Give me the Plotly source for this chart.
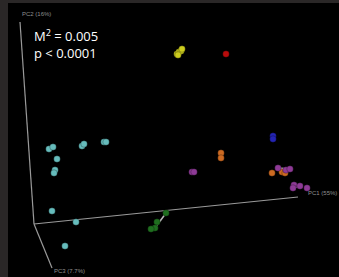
import plotly.graph_objects as go

# projected PCoA coordinates (screen frame of the reference view)
yellow_x = [177, 179, 181, 182, 178]
yellow_y = [54, 52, 51, 49, 55]
red_x = [226]
red_y = [54]
cyan_x = [49, 53, 57, 55, 54, 82, 84, 104, 106, 52, 76, 65]
cyan_y = [149, 147, 159, 170, 173, 146, 144, 142, 142, 211, 222, 246]
green_x = [166, 157, 155, 151]
green_y = [213, 222, 228, 229]
orange_x = [221, 221, 272, 282, 285]
orange_y = [153, 158, 173, 172, 173]
blue_x = [273, 273]
blue_y = [136, 139]
purple_x = [192, 194, 278, 286, 290, 294, 300, 307, 293]
purple_y = [172, 172, 168, 170, 169, 185, 186, 188, 188]

groups = [
    ("yellow", yellow_x, yellow_y, "#cccc1e"),
    ("red", red_x, red_y, "#b80c0c"),
    ("cyan", cyan_x, cyan_y, "#66bcbc"),
    ("green", green_x, green_y, "#1f6e1f"),
    ("orange", orange_x, orange_y, "#cc6a22"),
    ("blue", blue_x, blue_y, "#2424b4"),
    ("purple", purple_x, purple_y, "#8e3a96"),
]

# axis endpoints: origin, PC1 end, PC2 end, PC3 end
origin = (34, 224)
pc1_end = (298, 197)
pc2_end = (20, 22)
pc3_end = (52, 268)
axis_labels = ["PC1 (55%)", "PC2 (16%)", "PC3 (7.7%)"]
axis_label_pos = [(306, 193), (20, 14), (52, 271)]

fig = go.Figure()
for end in (pc1_end, pc2_end, pc3_end):
    fig.add_trace(go.Scatter(x=[origin[0], end[0]], y=[origin[1], end[1]],
                             mode="lines", line=dict(color="#9a9a9a", width=1.2),
                             hoverinfo="skip", showlegend=False))

# trajectory segments
traj_x = [[166, 155], [221, 221], [278, 290], [293, 300]]
traj_y = [[213, 228], [153, 158], [168, 169], [188, 186]]
for tx, ty in zip(traj_x, traj_y):
    fig.add_trace(go.Scatter(x=tx, y=ty, mode="lines",
                             line=dict(color="#bbbbbb", width=1.5),
                             hoverinfo="skip", showlegend=False))

for name, xs, ys, col in groups:
    fig.add_trace(go.Scatter(x=xs, y=ys, mode="markers", name=name,
                             marker=dict(size=6.5, color=col,
                                         line=dict(width=0.8, color="rgba(0,0,0,0.35)")),
                             showlegend=False))

for lab, (lx, ly) in zip(axis_labels, axis_label_pos):
    fig.add_annotation(x=lx, y=ly, text=lab, showarrow=False, xanchor="left",
                       yanchor="middle", font=dict(size=6, color="#8f8f8f",
                                                   family="Liberation Sans"))

fig.add_annotation(x=32, y=35, text="M<sup>2</sup> = 0.005", showarrow=False,
                   xanchor="left", yanchor="middle",
                   font=dict(size=13, color="#ffffff", family="Open Sans"))
fig.add_annotation(x=32, y=53, text="p < 0.0001", showarrow=False,
                   xanchor="left", yanchor="middle",
                   font=dict(size=13, color="#ffffff", family="Open Sans"))

fig.update_layout(
    width=339, height=277,
    margin=dict(l=8, r=0, t=3, b=0),
    paper_bgcolor="#2a2727", plot_bgcolor="#000000",
    xaxis=dict(range=[8, 339], visible=False, fixedrange=True),
    yaxis=dict(range=[277, 3], visible=False, fixedrange=True),
)
fig.write_html("out.html", config={"displayModeBar": False},
               post_script="document.body.style.margin='0px';")
